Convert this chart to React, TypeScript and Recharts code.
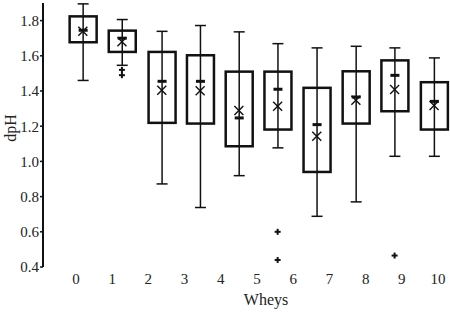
import { Bar, ComposedChart, Scatter, XAxis, YAxis } from "recharts"

// box centres, in x-axis units (boxes sit off the tick labels)
const boxX = [0.19, 1.27, 2.37, 3.43, 4.5, 5.57, 6.65, 7.73, 8.8, 9.89]
const whiskerLow = [1.46, 1.546, 0.872, 0.738, 0.919, 1.077, 0.688, 0.77, 1.029, 1.029]
const q1 = [1.677, 1.622, 1.219, 1.215, 1.086, 1.181, 0.94, 1.215, 1.285, 1.181]
const medians = [1.745, 1.7, 1.455, 1.455, 1.247, 1.41, 1.209, 1.366, 1.489, 1.341]
const q3 = [1.824, 1.743, 1.622, 1.603, 1.51, 1.51, 1.418, 1.512, 1.574, 1.45]
const whiskerHigh = [1.895, 1.806, 1.739, 1.772, 1.736, 1.669, 1.645, 1.654, 1.645, 1.588]
const means = [1.74, 1.68, 1.404, 1.402, 1.289, 1.313, 1.143, 1.347, 1.408, 1.317]

const outlierX = [1.27, 1.27, 5.57, 5.57, 8.8]
const outlierY = [1.52, 1.49, 0.6, 0.44, 0.465]

const xTicks = [0, 1, 2, 3, 4, 5, 6, 7, 8, 9, 10]
const yTicks = [0.4, 0.6, 0.8, 1.0, 1.2, 1.4, 1.6, 1.8]

const data = boxX.map((x, i) => ({
  x,
  low: whiskerLow[i],
  q1: q1[i],
  median: medians[i],
  q3: q3[i],
  high: whiskerHigh[i],
}))
const meanPoints = boxX.map((x, i) => ({ x, y: means[i] }))
const outliers = outlierX.map((x, i) => ({ x, y: outlierY[i] }))

const INK = "#111"
const FONT = "'Liberation Serif', 'DejaVu Serif', serif"

const BoxShape = (props: any) => {
  const { x, y, width, height } = props
  const d = props.payload ?? props
  // linear map inside the bar's own pixel range (low..high)
  const py = (v: number) => y + ((d.high - v) / (d.high - d.low)) * height
  const cx = x + width / 2
  const cap = 5.5
  return (
    <g stroke={INK} fill="none">
      <line x1={cx} x2={cx} y1={y} y2={y + height} strokeWidth={1.5} />
      <line x1={cx - cap} x2={cx + cap} y1={y} y2={y} strokeWidth={1.5} />
      <line x1={cx - cap} x2={cx + cap} y1={y + height} y2={y + height} strokeWidth={1.5} />
      <rect x={x} y={py(d.q3)} width={width} height={py(d.q1) - py(d.q3)} strokeWidth={2.5} />
      <rect x={cx - 4.5} y={py(d.median) - 1.5} width={9} height={3} fill={INK} stroke="none" />
    </g>
  )
}

const MeanShape = (props: any) => {
  const { cx, cy } = props
  const s = 4.5
  return (
    <g stroke={INK} strokeWidth={1.4}>
      <line x1={cx - s} y1={cy - s} x2={cx + s} y2={cy + s} />
      <line x1={cx - s} y1={cy + s} x2={cx + s} y2={cy - s} />
    </g>
  )
}

const PlusShape = (props: any) => {
  const { cx, cy } = props
  const s = 3
  return (
    <g stroke={INK} strokeWidth={2}>
      <line x1={cx - s} y1={cy} x2={cx + s} y2={cy} />
      <line x1={cx} y1={cy - s} x2={cx} y2={cy + s} />
    </g>
  )
}

export default function App() {
  return (
    <div style={{ position: "absolute", left: 0, top: 0, background: "#fff" }}>
      <ComposedChart
        width={450}
        height={312}
        data={data}
        margin={{ top: 3, right: 0, bottom: 0, left: 0 }}
      >
        <XAxis
          dataKey="x"
          type="number"
          domain={[-0.91, 10.33]}
          allowDataOverflow
          ticks={xTicks}
          axisLine={false}
          tickLine={false}
          tickSize={0}
          tickMargin={6}
          height={45}
          tick={{ fill: "#222", fontSize: 15, fontFamily: FONT }}
          label={{
            content: () => (
              <text x={266} y={305} textAnchor="middle" fill="#222" fontSize={16} fontFamily={FONT}>
                Wheys
              </text>
            ),
          }}
        />
        <YAxis
          type="number"
          domain={[0.4, 1.9]}
          allowDataOverflow
          ticks={yTicks}
          tickFormatter={(v: number) => v.toFixed(1)}
          width={43}
          axisLine={{ stroke: INK, strokeWidth: 2 }}
          tickLine={{ stroke: INK, strokeWidth: 1.5 }}
          tickSize={3}
          tickMargin={1}
          tick={{ fill: "#222", fontSize: 15, fontFamily: FONT }}
          label={{
            content: () => (
              <text
                x={16}
                y={128}
                transform="rotate(-90 16 128)"
                textAnchor="middle"
                fill="#222"
                fontSize={16}
                fontFamily={FONT}
              >
                dpH
              </text>
            ),
          }}
        />
        <Bar
          dataKey={(d: any) => [d.low, d.high]}
          barSize={27}
          shape={<BoxShape />}
          isAnimationActive={false}
        />
        <Scatter data={meanPoints} dataKey="y" shape={<MeanShape />} isAnimationActive={false} />
        <Scatter data={outliers} dataKey="y" shape={<PlusShape />} isAnimationActive={false} />
      </ComposedChart>
    </div>
  )
}
